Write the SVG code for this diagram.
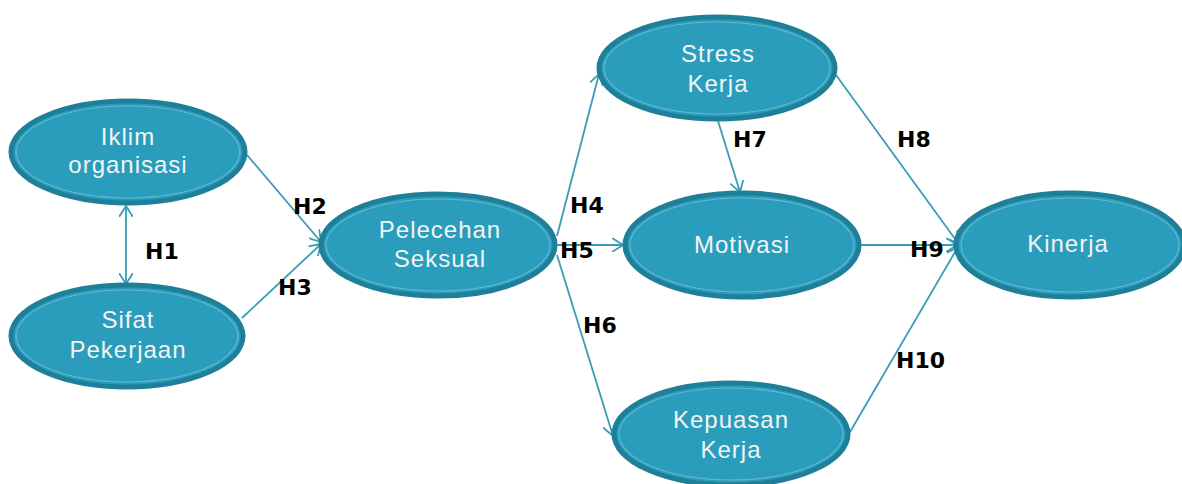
<svg xmlns="http://www.w3.org/2000/svg" width="1182" height="484" viewBox="0 0 1182 484">
<style>
.outer{fill:#2A9DBD;stroke:#1F7F99;stroke-width:5}
.inner{fill:none;stroke:#62B9D0;stroke-width:1.2}
.t{font-family:"Liberation Sans",Arial,sans-serif;font-size:24px;fill:#F4F4F4;text-anchor:middle;letter-spacing:1px}
.lb{font-family:"DejaVu Sans",sans-serif;font-size:22px;font-weight:bold;fill:#000}
.c{stroke:#3A9CB6;stroke-width:1.8;fill:none}
</style>
<defs>
<marker id="a" viewBox="0 0 12 14" refX="11" refY="7" markerWidth="12" markerHeight="14" markerUnits="userSpaceOnUse" orient="auto-start-reverse">
<path d="M0,0 L11,7 L0,14" fill="none" stroke="#3A9CB6" stroke-width="1.8"/>
</marker>
</defs>
<rect width="1182" height="484" fill="#fff"/>
<g id="connectors">
<line class="c" x1="126" y1="206" x2="126" y2="284" marker-start="url(#a)" marker-end="url(#a)"/>
<line class="c" x1="247" y1="155" x2="321" y2="242" marker-end="url(#a)"/>
<line class="c" x1="242" y1="318" x2="321" y2="244" marker-end="url(#a)"/>
<line class="c" x1="557" y1="236" x2="599" y2="74" marker-end="url(#a)"/>
<line class="c" x1="557" y1="245" x2="623" y2="245" marker-end="url(#a)"/>
<line class="c" x1="557" y1="255" x2="613" y2="436" marker-end="url(#a)"/>
<line class="c" x1="718" y1="121" x2="740" y2="192" marker-end="url(#a)"/>
<line class="c" x1="836" y1="75" x2="958" y2="243" marker-end="url(#a)"/>
<line class="c" x1="860" y1="245" x2="957" y2="245" marker-end="url(#a)"/>
<line class="c" x1="850" y1="432" x2="958" y2="247" marker-end="url(#a)"/>
</g>
<g id="labels">
<text class="lb" x="145" y="259">H1</text>
<text class="lb" x="293" y="214">H2</text>
<text class="lb" x="278" y="295">H3</text>
<text class="lb" x="570" y="213">H4</text>
<text class="lb" x="560" y="258">H5</text>
<text class="lb" x="583" y="333">H6</text>
<text class="lb" x="733" y="147">H7</text>
<text class="lb" x="897" y="147">H8</text>
<text class="lb" x="910" y="257">H9</text>
<text class="lb" x="896" y="368">H10</text>
</g>
<g id="iklim">
<ellipse class="outer" cx="128" cy="152" rx="117" ry="51"/>
<ellipse class="inner" cx="128" cy="152" rx="112" ry="46"/>
<text class="t" x="128" y="145">Iklim</text>
<text class="t" x="128" y="173">organisasi</text>
</g>
<g id="sifat">
<ellipse class="outer" cx="127" cy="336" rx="116" ry="51"/>
<ellipse class="inner" cx="127" cy="336" rx="111" ry="46"/>
<text class="t" x="128" y="328">Sifat</text>
<text class="t" x="128" y="358">Pekerjaan</text>
</g>
<g id="pelecehan">
<ellipse class="outer" cx="438" cy="245" rx="117" ry="51"/>
<ellipse class="inner" cx="438" cy="245" rx="112" ry="46"/>
<text class="t" x="440" y="238">Pelecehan</text>
<text class="t" x="440" y="267">Seksual</text>
</g>
<g id="stress">
<ellipse class="outer" cx="717" cy="68" rx="118" ry="51"/>
<ellipse class="inner" cx="717" cy="68" rx="113" ry="46"/>
<text class="t" x="718" y="62">Stress</text>
<text class="t" x="718" y="92">Kerja</text>
</g>
<g id="motivasi">
<ellipse class="outer" cx="742" cy="245" rx="117" ry="52"/>
<ellipse class="inner" cx="742" cy="245" rx="112" ry="47"/>
<text class="t" x="742" y="253">Motivasi</text>
</g>
<g id="kepuasan">
<ellipse class="outer" cx="731" cy="434" rx="117" ry="51"/>
<ellipse class="inner" cx="731" cy="434" rx="112" ry="46"/>
<text class="t" x="731" y="428">Kepuasan</text>
<text class="t" x="731" y="458">Kerja</text>
</g>
<g id="kinerja">
<ellipse class="outer" cx="1070" cy="245" rx="114" ry="52"/>
<ellipse class="inner" cx="1070" cy="245" rx="109" ry="47"/>
<text class="t" x="1068" y="252">Kinerja</text>
</g>
</svg>
